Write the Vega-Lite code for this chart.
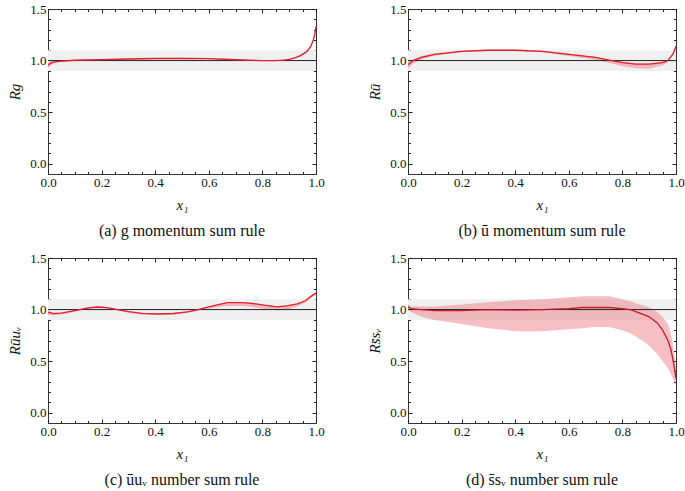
{
  "$schema": "https://vega.github.io/schema/vega-lite/v6.json",
  "padding": {"left": 7, "top": 2, "right": 3, "bottom": 2},
  "background": "white",
  "datasets": {
    "band": [{"lo": 0.9, "hi": 1.1, "one": 1}],
    "a": [
      {"x": 0.0, "y": 0.955, "lo": 0.93, "hi": 0.98},
      {"x": 0.01, "y": 0.975, "lo": 0.955, "hi": 0.99},
      {"x": 0.02, "y": 0.985, "lo": 0.97, "hi": 0.995},
      {"x": 0.04, "y": 0.993, "lo": 0.985, "hi": 1.0},
      {"x": 0.07, "y": 0.998, "lo": 0.992, "hi": 1.004},
      {"x": 0.1, "y": 1.003, "lo": 0.997, "hi": 1.008},
      {"x": 0.2, "y": 1.01, "lo": 1.005, "hi": 1.015},
      {"x": 0.3, "y": 1.015, "lo": 1.01, "hi": 1.02},
      {"x": 0.4, "y": 1.02, "lo": 1.015, "hi": 1.025},
      {"x": 0.5, "y": 1.022, "lo": 1.017, "hi": 1.027},
      {"x": 0.6, "y": 1.018, "lo": 1.012, "hi": 1.024},
      {"x": 0.7, "y": 1.008, "lo": 1.002, "hi": 1.014},
      {"x": 0.75, "y": 1.003, "lo": 0.998, "hi": 1.009},
      {"x": 0.8, "y": 1.0, "lo": 0.995, "hi": 1.006},
      {"x": 0.85, "y": 1.0, "lo": 0.995, "hi": 1.006},
      {"x": 0.88, "y": 1.005, "lo": 1.0, "hi": 1.01},
      {"x": 0.9, "y": 1.012, "lo": 1.006, "hi": 1.018},
      {"x": 0.92, "y": 1.025, "lo": 1.018, "hi": 1.032},
      {"x": 0.94, "y": 1.045, "lo": 1.037, "hi": 1.053},
      {"x": 0.96, "y": 1.077, "lo": 1.068, "hi": 1.086},
      {"x": 0.97, "y": 1.1, "lo": 1.09, "hi": 1.11},
      {"x": 0.98, "y": 1.135, "lo": 1.124, "hi": 1.146},
      {"x": 0.99, "y": 1.2, "lo": 1.188, "hi": 1.212},
      {"x": 0.995, "y": 1.25, "lo": 1.237, "hi": 1.263},
      {"x": 1.0, "y": 1.33, "lo": 1.315, "hi": 1.345}
    ],
    "b": [
      {"x": 0.0, "y": 0.96, "lo": 0.92, "hi": 0.985},
      {"x": 0.02, "y": 1.0, "lo": 0.975, "hi": 1.015},
      {"x": 0.05, "y": 1.03, "lo": 1.01, "hi": 1.045},
      {"x": 0.1, "y": 1.06, "lo": 1.048, "hi": 1.07},
      {"x": 0.2, "y": 1.09, "lo": 1.08, "hi": 1.098},
      {"x": 0.3, "y": 1.1, "lo": 1.092, "hi": 1.107},
      {"x": 0.4, "y": 1.1, "lo": 1.092, "hi": 1.107},
      {"x": 0.5, "y": 1.09, "lo": 1.08, "hi": 1.097},
      {"x": 0.6, "y": 1.06, "lo": 1.045, "hi": 1.068},
      {"x": 0.7, "y": 1.03, "lo": 1.005, "hi": 1.035},
      {"x": 0.75, "y": 1.005, "lo": 0.98, "hi": 1.012},
      {"x": 0.8, "y": 0.98, "lo": 0.945, "hi": 0.99},
      {"x": 0.85, "y": 0.965, "lo": 0.925, "hi": 0.975},
      {"x": 0.9, "y": 0.965, "lo": 0.92, "hi": 0.975},
      {"x": 0.95, "y": 0.98, "lo": 0.955, "hi": 0.99},
      {"x": 0.97, "y": 1.0, "lo": 0.985, "hi": 1.01},
      {"x": 0.99, "y": 1.07, "lo": 1.06, "hi": 1.08},
      {"x": 1.0, "y": 1.14, "lo": 1.13, "hi": 1.15}
    ],
    "c": [
      {"x": 0.0, "y": 0.975, "lo": 0.95, "hi": 0.985},
      {"x": 0.02, "y": 0.96, "lo": 0.945, "hi": 0.968},
      {"x": 0.05, "y": 0.965, "lo": 0.952, "hi": 0.972},
      {"x": 0.1, "y": 0.99, "lo": 0.98, "hi": 0.996},
      {"x": 0.15, "y": 1.017, "lo": 1.008, "hi": 1.023},
      {"x": 0.185, "y": 1.025, "lo": 1.016, "hi": 1.031},
      {"x": 0.22, "y": 1.018, "lo": 1.008, "hi": 1.024},
      {"x": 0.26, "y": 1.0, "lo": 0.99, "hi": 1.006},
      {"x": 0.3, "y": 0.98, "lo": 0.97, "hi": 0.986},
      {"x": 0.35, "y": 0.963, "lo": 0.953, "hi": 0.969},
      {"x": 0.41, "y": 0.957, "lo": 0.947, "hi": 0.963},
      {"x": 0.47, "y": 0.962, "lo": 0.952, "hi": 0.968},
      {"x": 0.52, "y": 0.978, "lo": 0.967, "hi": 0.984},
      {"x": 0.56, "y": 1.0, "lo": 0.988, "hi": 1.006},
      {"x": 0.6, "y": 1.025, "lo": 1.01, "hi": 1.031},
      {"x": 0.64, "y": 1.05, "lo": 1.025, "hi": 1.056},
      {"x": 0.67, "y": 1.068, "lo": 1.035, "hi": 1.073},
      {"x": 0.72, "y": 1.068, "lo": 1.035, "hi": 1.073},
      {"x": 0.76, "y": 1.06, "lo": 1.025, "hi": 1.065},
      {"x": 0.8, "y": 1.045, "lo": 1.01, "hi": 1.05},
      {"x": 0.855, "y": 1.027, "lo": 0.99, "hi": 1.033},
      {"x": 0.89, "y": 1.035, "lo": 0.995, "hi": 1.04},
      {"x": 0.93, "y": 1.055, "lo": 1.03, "hi": 1.06},
      {"x": 0.96, "y": 1.085, "lo": 1.065, "hi": 1.09},
      {"x": 0.985, "y": 1.135, "lo": 1.12, "hi": 1.14},
      {"x": 1.0, "y": 1.16, "lo": 1.14, "hi": 1.17}
    ],
    "d": [
      {"x": 0.0, "y": 1.03, "lo": 1.0, "hi": 1.05},
      {"x": 0.01, "y": 1.01, "lo": 0.98, "hi": 1.03},
      {"x": 0.05, "y": 1.0, "lo": 0.93, "hi": 1.03},
      {"x": 0.1, "y": 0.99, "lo": 0.9, "hi": 1.03},
      {"x": 0.2, "y": 0.99, "lo": 0.86, "hi": 1.05},
      {"x": 0.3, "y": 1.0, "lo": 0.82, "hi": 1.07},
      {"x": 0.4, "y": 0.995, "lo": 0.79, "hi": 1.09},
      {"x": 0.5, "y": 1.0, "lo": 0.79, "hi": 1.1},
      {"x": 0.6, "y": 1.01, "lo": 0.81, "hi": 1.12},
      {"x": 0.65, "y": 1.02, "lo": 0.82, "hi": 1.13},
      {"x": 0.7, "y": 1.022, "lo": 0.83, "hi": 1.13},
      {"x": 0.75, "y": 1.02, "lo": 0.83, "hi": 1.13},
      {"x": 0.8, "y": 1.01, "lo": 0.8, "hi": 1.1},
      {"x": 0.83, "y": 1.0, "lo": 0.77, "hi": 1.08},
      {"x": 0.85, "y": 0.98, "lo": 0.74, "hi": 1.06},
      {"x": 0.88, "y": 0.95, "lo": 0.69, "hi": 1.04},
      {"x": 0.9, "y": 0.93, "lo": 0.65, "hi": 1.02},
      {"x": 0.93, "y": 0.87, "lo": 0.57, "hi": 0.98},
      {"x": 0.95, "y": 0.8, "lo": 0.5, "hi": 0.93},
      {"x": 0.97, "y": 0.7, "lo": 0.43, "hi": 0.86},
      {"x": 0.98, "y": 0.62, "lo": 0.38, "hi": 0.78},
      {"x": 0.99, "y": 0.5, "lo": 0.32, "hi": 0.64},
      {"x": 1.0, "y": 0.33, "lo": 0.27, "hi": 0.4}
    ]
  },
  "config": {
    "view": {"stroke": "#333", "strokeWidth": 1},
    "axis": {
      "domain": false,
      "grid": false,
      "labelFont": "Liberation Serif",
      "labelFontSize": 13,
      "labelColor": "#111",
      "labelOverlap": false,
      "labelFlush": false,
      "tickColor": "#222",
      "tickWidth": 1,
      "titleFont": "Liberation Serif",
      "titleFontStyle": "italic",
      "titleFontWeight": "normal",
      "titleFontSize": 15,
      "titleColor": "#111"
    },
    "title": {"font": "Liberation Serif", "fontSize": 16, "fontWeight": "normal", "color": "#111", "orient": "bottom", "frame": "group", "anchor": "middle", "offset": 10}
  },
  "vconcat": [
    {
      "bounds": "flush",
      "hconcat": [
        {
          "width": 268, "height": 165,
          "title": {"text": "(a) g momentum sum rule"},
          "layer": [
            {"data": {"name": "band"}, "mark": {"type": "rect", "color": "#f0f0f0"},
             "encoding": {"y": {"field": "lo", "type": "quantitative", "scale": {"domain": [-0.1, 1.5], "nice": false}, "axis": null}, "y2": {"field": "hi"}}},
            {"data": {"name": "a"}, "mark": {"type": "area", "color": "#e8707a", "opacity": 0.45},
             "encoding": {
               "x": {"field": "x", "type": "quantitative", "scale": {"domain": [0, 1], "nice": false},
                     "axis": {"orient": "top", "labels": false, "title": null, "values": [0,0.05,0.1,0.15,0.2,0.25,0.3,0.35,0.4,0.45,0.5,0.55,0.6,0.65,0.7,0.75,0.8,0.85,0.9,0.95,1],
                              "tickSize": {"condition": {"test": "abs(datum.value*5 - round(datum.value*5)) < 0.001", "value": -4}, "value": -2.5}}},
               "y": {"field": "lo", "type": "quantitative", "scale": {"domain": [-0.1, 1.5], "nice": false},
                     "axis": {"orient": "right", "labels": false, "title": null, "values": [0,0.1,0.2,0.3,0.4,0.5,0.6,0.7,0.8,0.9,1,1.1,1.2,1.3,1.4,1.5],
                              "tickSize": {"condition": {"test": "abs(datum.value*2 - round(datum.value*2)) < 0.001", "value": -4}, "value": -2.5}}},
               "y2": {"field": "hi"}}},
            {"data": {"name": "band"}, "mark": {"type": "rule", "color": "#222", "strokeWidth": 1},
             "encoding": {"y": {"field": "one", "type": "quantitative", "axis": null}}},
            {"data": {"name": "a"}, "mark": {"type": "line", "color": "#e0202e", "strokeWidth": 1.3},
             "encoding": {
               "x": {"field": "x", "type": "quantitative",
                     "axis": {"orient": "bottom", "title": "x₁", "titlePadding": 7, "labelPadding": 6, "values": [0,0.05,0.1,0.15,0.2,0.25,0.3,0.35,0.4,0.45,0.5,0.55,0.6,0.65,0.7,0.75,0.8,0.85,0.9,0.95,1],
                              "labelExpr": "abs(datum.value*5 - round(datum.value*5)) < 0.001 ? format(datum.value, '.1f') : ''",
                              "tickSize": {"condition": {"test": "abs(datum.value*5 - round(datum.value*5)) < 0.001", "value": -4}, "value": -2.5}}},
               "y": {"field": "y", "type": "quantitative",
                     "axis": {"orient": "left", "title": "Rg", "titlePadding": 7, "labelPadding": 6, "values": [0,0.1,0.2,0.3,0.4,0.5,0.6,0.7,0.8,0.9,1,1.1,1.2,1.3,1.4,1.5],
                              "labelExpr": "abs(datum.value*2 - round(datum.value*2)) < 0.001 ? format(datum.value, '.1f') : ''",
                              "tickSize": {"condition": {"test": "abs(datum.value*2 - round(datum.value*2)) < 0.001", "value": -4}, "value": -2.5}}}}}
          ],
          "resolve": {"axis": {"x": "independent", "y": "independent"}}
        },
        {
          "width": 268, "height": 165,
          "title": {"text": "(b) ū momentum sum rule"},
          "layer": [
            {"data": {"name": "band"}, "mark": {"type": "rect", "color": "#f0f0f0"},
             "encoding": {"y": {"field": "lo", "type": "quantitative", "scale": {"domain": [-0.1, 1.5], "nice": false}, "axis": null}, "y2": {"field": "hi"}}},
            {"data": {"name": "b"}, "mark": {"type": "area", "color": "#e8707a", "opacity": 0.45},
             "encoding": {
               "x": {"field": "x", "type": "quantitative", "scale": {"domain": [0, 1], "nice": false},
                     "axis": {"orient": "top", "labels": false, "title": null, "values": [0,0.05,0.1,0.15,0.2,0.25,0.3,0.35,0.4,0.45,0.5,0.55,0.6,0.65,0.7,0.75,0.8,0.85,0.9,0.95,1],
                              "tickSize": {"condition": {"test": "abs(datum.value*5 - round(datum.value*5)) < 0.001", "value": -4}, "value": -2.5}}},
               "y": {"field": "lo", "type": "quantitative", "scale": {"domain": [-0.1, 1.5], "nice": false},
                     "axis": {"orient": "right", "labels": false, "title": null, "values": [0,0.1,0.2,0.3,0.4,0.5,0.6,0.7,0.8,0.9,1,1.1,1.2,1.3,1.4,1.5],
                              "tickSize": {"condition": {"test": "abs(datum.value*2 - round(datum.value*2)) < 0.001", "value": -4}, "value": -2.5}}},
               "y2": {"field": "hi"}}},
            {"data": {"name": "band"}, "mark": {"type": "rule", "color": "#222", "strokeWidth": 1},
             "encoding": {"y": {"field": "one", "type": "quantitative", "axis": null}}},
            {"data": {"name": "b"}, "mark": {"type": "line", "color": "#e0202e", "strokeWidth": 1.3},
             "encoding": {
               "x": {"field": "x", "type": "quantitative",
                     "axis": {"orient": "bottom", "title": "x₁", "titlePadding": 7, "labelPadding": 6, "values": [0,0.05,0.1,0.15,0.2,0.25,0.3,0.35,0.4,0.45,0.5,0.55,0.6,0.65,0.7,0.75,0.8,0.85,0.9,0.95,1],
                              "labelExpr": "abs(datum.value*5 - round(datum.value*5)) < 0.001 ? format(datum.value, '.1f') : ''",
                              "tickSize": {"condition": {"test": "abs(datum.value*5 - round(datum.value*5)) < 0.001", "value": -4}, "value": -2.5}}},
               "y": {"field": "y", "type": "quantitative",
                     "axis": {"orient": "left", "title": "Rū", "titlePadding": 7, "labelPadding": 6, "values": [0,0.1,0.2,0.3,0.4,0.5,0.6,0.7,0.8,0.9,1,1.1,1.2,1.3,1.4,1.5],
                              "labelExpr": "abs(datum.value*2 - round(datum.value*2)) < 0.001 ? format(datum.value, '.1f') : ''",
                              "tickSize": {"condition": {"test": "abs(datum.value*2 - round(datum.value*2)) < 0.001", "value": -4}, "value": -2.5}}}}}
          ],
          "resolve": {"axis": {"x": "independent", "y": "independent"}}
        }
      ],
      "spacing": 92
    },
    {
      "bounds": "flush",
      "hconcat": [
        {
          "width": 268, "height": 165,
          "title": {"text": "(c) ūuᵥ number sum rule"},
          "layer": [
            {"data": {"name": "band"}, "mark": {"type": "rect", "color": "#f0f0f0"},
             "encoding": {"y": {"field": "lo", "type": "quantitative", "scale": {"domain": [-0.1, 1.5], "nice": false}, "axis": null}, "y2": {"field": "hi"}}},
            {"data": {"name": "c"}, "mark": {"type": "area", "color": "#e8707a", "opacity": 0.45},
             "encoding": {
               "x": {"field": "x", "type": "quantitative", "scale": {"domain": [0, 1], "nice": false},
                     "axis": {"orient": "top", "labels": false, "title": null, "values": [0,0.05,0.1,0.15,0.2,0.25,0.3,0.35,0.4,0.45,0.5,0.55,0.6,0.65,0.7,0.75,0.8,0.85,0.9,0.95,1],
                              "tickSize": {"condition": {"test": "abs(datum.value*5 - round(datum.value*5)) < 0.001", "value": -4}, "value": -2.5}}},
               "y": {"field": "lo", "type": "quantitative", "scale": {"domain": [-0.1, 1.5], "nice": false},
                     "axis": {"orient": "right", "labels": false, "title": null, "values": [0,0.1,0.2,0.3,0.4,0.5,0.6,0.7,0.8,0.9,1,1.1,1.2,1.3,1.4,1.5],
                              "tickSize": {"condition": {"test": "abs(datum.value*2 - round(datum.value*2)) < 0.001", "value": -4}, "value": -2.5}}},
               "y2": {"field": "hi"}}},
            {"data": {"name": "band"}, "mark": {"type": "rule", "color": "#222", "strokeWidth": 1},
             "encoding": {"y": {"field": "one", "type": "quantitative", "axis": null}}},
            {"data": {"name": "c"}, "mark": {"type": "line", "color": "#e0202e", "strokeWidth": 1.3},
             "encoding": {
               "x": {"field": "x", "type": "quantitative",
                     "axis": {"orient": "bottom", "title": "x₁", "titlePadding": 7, "labelPadding": 6, "values": [0,0.05,0.1,0.15,0.2,0.25,0.3,0.35,0.4,0.45,0.5,0.55,0.6,0.65,0.7,0.75,0.8,0.85,0.9,0.95,1],
                              "labelExpr": "abs(datum.value*5 - round(datum.value*5)) < 0.001 ? format(datum.value, '.1f') : ''",
                              "tickSize": {"condition": {"test": "abs(datum.value*5 - round(datum.value*5)) < 0.001", "value": -4}, "value": -2.5}}},
               "y": {"field": "y", "type": "quantitative",
                     "axis": {"orient": "left", "title": "Rūuᵥ", "titlePadding": 7, "labelPadding": 6, "values": [0,0.1,0.2,0.3,0.4,0.5,0.6,0.7,0.8,0.9,1,1.1,1.2,1.3,1.4,1.5],
                              "labelExpr": "abs(datum.value*2 - round(datum.value*2)) < 0.001 ? format(datum.value, '.1f') : ''",
                              "tickSize": {"condition": {"test": "abs(datum.value*2 - round(datum.value*2)) < 0.001", "value": -4}, "value": -2.5}}}}}
          ],
          "resolve": {"axis": {"x": "independent", "y": "independent"}}
        },
        {
          "width": 268, "height": 165,
          "title": {"text": "(d) s̄sᵥ number sum rule"},
          "layer": [
            {"data": {"name": "band"}, "mark": {"type": "rect", "color": "#f0f0f0"},
             "encoding": {"y": {"field": "lo", "type": "quantitative", "scale": {"domain": [-0.1, 1.5], "nice": false}, "axis": null}, "y2": {"field": "hi"}}},
            {"data": {"name": "d"}, "mark": {"type": "area", "color": "#e8707a", "opacity": 0.45},
             "encoding": {
               "x": {"field": "x", "type": "quantitative", "scale": {"domain": [0, 1], "nice": false},
                     "axis": {"orient": "top", "labels": false, "title": null, "values": [0,0.05,0.1,0.15,0.2,0.25,0.3,0.35,0.4,0.45,0.5,0.55,0.6,0.65,0.7,0.75,0.8,0.85,0.9,0.95,1],
                              "tickSize": {"condition": {"test": "abs(datum.value*5 - round(datum.value*5)) < 0.001", "value": -4}, "value": -2.5}}},
               "y": {"field": "lo", "type": "quantitative", "scale": {"domain": [-0.1, 1.5], "nice": false},
                     "axis": {"orient": "right", "labels": false, "title": null, "values": [0,0.1,0.2,0.3,0.4,0.5,0.6,0.7,0.8,0.9,1,1.1,1.2,1.3,1.4,1.5],
                              "tickSize": {"condition": {"test": "abs(datum.value*2 - round(datum.value*2)) < 0.001", "value": -4}, "value": -2.5}}},
               "y2": {"field": "hi"}}},
            {"data": {"name": "band"}, "mark": {"type": "rule", "color": "#222", "strokeWidth": 1},
             "encoding": {"y": {"field": "one", "type": "quantitative", "axis": null}}},
            {"data": {"name": "d"}, "mark": {"type": "line", "color": "#c8182a", "strokeWidth": 1.3},
             "encoding": {
               "x": {"field": "x", "type": "quantitative",
                     "axis": {"orient": "bottom", "title": "x₁", "titlePadding": 7, "labelPadding": 6, "values": [0,0.05,0.1,0.15,0.2,0.25,0.3,0.35,0.4,0.45,0.5,0.55,0.6,0.65,0.7,0.75,0.8,0.85,0.9,0.95,1],
                              "labelExpr": "abs(datum.value*5 - round(datum.value*5)) < 0.001 ? format(datum.value, '.1f') : ''",
                              "tickSize": {"condition": {"test": "abs(datum.value*5 - round(datum.value*5)) < 0.001", "value": -4}, "value": -2.5}}},
               "y": {"field": "y", "type": "quantitative",
                     "axis": {"orient": "left", "title": "Rs̄sᵥ", "titlePadding": 7, "labelPadding": 6, "values": [0,0.1,0.2,0.3,0.4,0.5,0.6,0.7,0.8,0.9,1,1.1,1.2,1.3,1.4,1.5],
                              "labelExpr": "abs(datum.value*2 - round(datum.value*2)) < 0.001 ? format(datum.value, '.1f') : ''",
                              "tickSize": {"condition": {"test": "abs(datum.value*2 - round(datum.value*2)) < 0.001", "value": -4}, "value": -2.5}}}}}
          ],
          "resolve": {"axis": {"x": "independent", "y": "independent"}}
        }
      ],
      "spacing": 92
    }
  ],
  "spacing": 12
}
